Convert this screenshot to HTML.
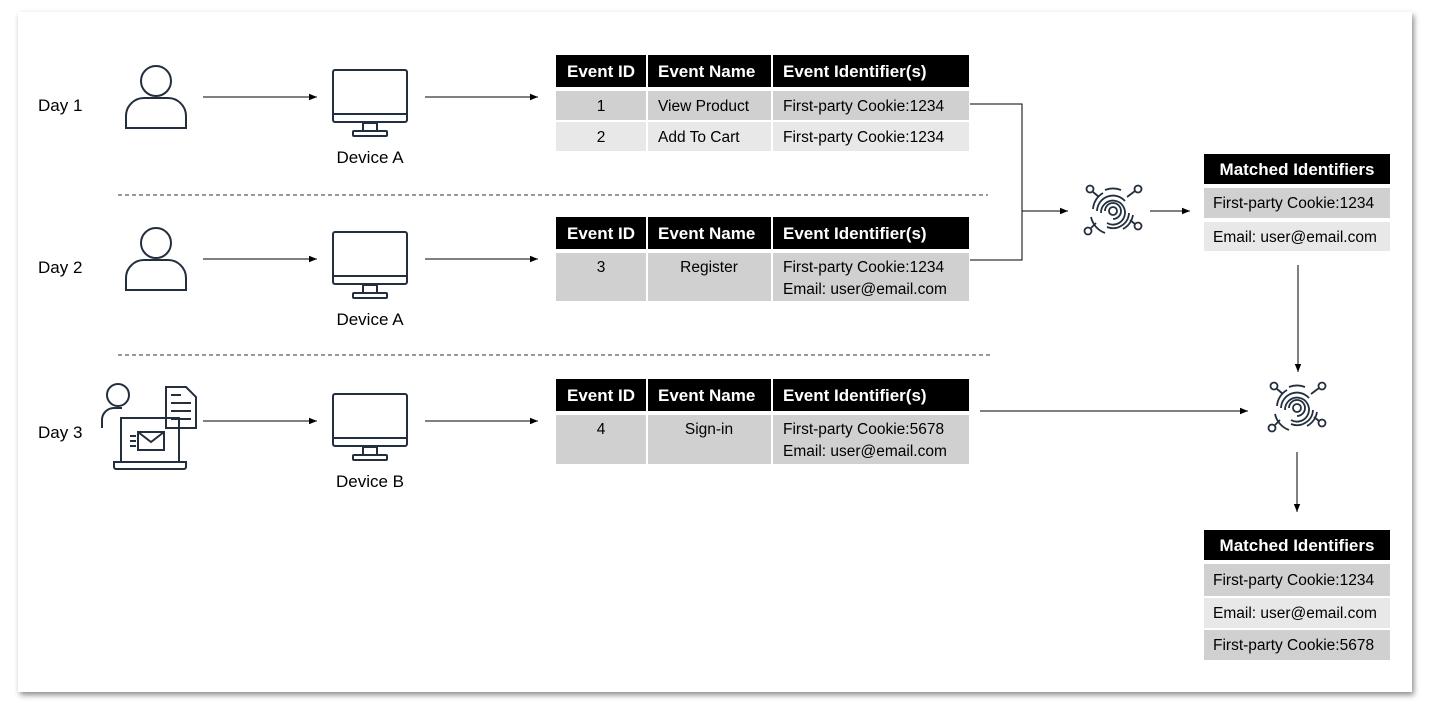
<!DOCTYPE html>
<html><head><meta charset="utf-8"><style>
body{margin:0;background:#fff}
svg text{font-family:"Liberation Sans",sans-serif}
</style></head><body>
<svg width="1430" height="721" viewBox="0 0 1430 721" xmlns="http://www.w3.org/2000/svg">
<defs>
<marker id="a" viewBox="0 0 10 10" refX="10" refY="5" markerWidth="8" markerHeight="8" orient="auto"><path d="M0,1 L10,5 L0,9z" fill="#000"/></marker>
<filter id="sh" x="-5%" y="-5%" width="110%" height="110%"><feDropShadow dx="2" dy="3" stdDeviation="3" flood-color="#000" flood-opacity="0.45"/></filter>
<g id="person" fill="none" stroke="#232f3e" stroke-width="2"><circle cx="0" cy="-17" r="15"/><path d="M-30,30 v-12 a18,18 0 0 1 18,-18 h24 a18,18 0 0 1 18,18 v12 z"/></g>
<g id="mon" fill="none" stroke="#232f3e" stroke-width="2"><rect x="0" y="0" width="74" height="52" rx="2"/><line x1="0" y1="44" x2="74" y2="44"/><rect x="30" y="53" width="14" height="8"/><rect x="20" y="61" width="34" height="5" rx="1"/></g>
<g id="fp" fill="none" stroke="#232f3e" stroke-width="1.8"><circle cx="0" cy="0" r="4"/><path d="M-8,0 a8,8 0 1 1 8,8"/><path d="M-12,2 a12,12 0 1 1 6,10"/><path d="M-16,0 a16,16 0 0 1 28,-10"/><path d="M16,2 a16,16 0 0 1 -22,14"/><path d="M-20,-2 a20,20 0 0 1 10,-16"/><path d="M20,4 a20,20 0 0 1 -10,14"/><path d="M-8,-21 a22,22 0 0 1 16,0"/><path d="M-22,6 a22,22 0 0 0 14,16"/><line x1="14" y1="-14" x2="22" y2="-20"/><circle cx="25" cy="-22" r="3.5"/><line x1="17" y1="9" x2="22" y2="13"/><circle cx="25" cy="15" r="3.5"/><line x1="-14" y1="-14" x2="-20" y2="-19"/><circle cx="-23" cy="-22" r="3.5"/><line x1="-17" y1="12" x2="-22" y2="17"/><circle cx="-25" cy="20" r="3.5"/></g>
</defs>
<rect x="18" y="12" width="1394" height="680" fill="#fff" filter="url(#sh)"/>
<g font-size="17" fill="#000"><text x="38" y="111">Day 1</text><text x="38" y="273">Day 2</text><text x="38" y="438">Day 3</text></g>
<use href="#person" x="156" y="98"/><use href="#person" x="156" y="260"/>
<g fill="none" stroke="#232f3e" stroke-width="2"><circle cx="118" cy="395" r="11"/><path d="M102,428 v-8 a12,12 0 0 1 12,-12 h8"/><rect x="121" y="418" width="58" height="44"/><path d="M114,462 h72 v5 a2,2 0 0 1 -2,2 h-68 a2,2 0 0 1 -2,-2z"/><rect x="138" y="432" width="26" height="18"/><path d="M138,432 l13,10 l13,-10"/><path d="M130,436h6M130,441h6M130,446h6"/><path d="M166,387 h20 l10,10 v31 h-30z"/><path d="M171,395h10M171,403h20M171,411h20M171,419h20"/></g>
<use href="#mon" x="333" y="70"/><use href="#mon" x="333" y="232"/><use href="#mon" x="333" y="394"/>
<g font-size="17" text-anchor="middle"><text x="370" y="163">Device A</text><text x="370" y="325">Device A</text><text x="370" y="487">Device B</text></g>
<g stroke="#000" stroke-width="1" fill="none" marker-end="url(#a)">
<line x1="203" y1="97" x2="317" y2="97"/><line x1="425" y1="97" x2="538" y2="97"/>
<line x1="203" y1="259" x2="317" y2="259"/><line x1="425" y1="259" x2="538" y2="259"/>
<line x1="203" y1="421" x2="317" y2="421"/><line x1="425" y1="421" x2="538" y2="421"/>
<line x1="1022" y1="211" x2="1068" y2="211"/><line x1="1150" y1="211" x2="1190" y2="211"/>
<line x1="1298" y1="265" x2="1298" y2="372"/><line x1="980" y1="411" x2="1248" y2="411"/>
<line x1="1297" y1="452" x2="1297" y2="512"/>
</g>
<path d="M970,104 H1022 V260 H970" stroke="#000" fill="none"/>
<g stroke="#333" stroke-dasharray="4,3"><line x1="118" y1="195" x2="988" y2="195"/><line x1="118" y1="355" x2="990" y2="355"/></g>
<g font-size="15.5">
<rect x="556" y="55" width="413" height="32" fill="#000"/>
<g fill="#fff" font-weight="bold" font-size="17"><text x="601" y="77" text-anchor="middle">Event ID</text><text x="658" y="77">Event Name</text><text x="783" y="77">Event Identifier(s)</text></g>
<rect x="556" y="91" width="413" height="29" fill="#d0d0d0"/><rect x="556" y="122" width="413" height="29" fill="#e8e8e8"/>
<text x="601" y="111" text-anchor="middle">1</text><text x="658" y="111">View Product</text><text x="783" y="111">First-party Cookie:1234</text>
<text x="601" y="142" text-anchor="middle">2</text><text x="658" y="142">Add To Cart</text><text x="783" y="142">First-party Cookie:1234</text>
<rect x="556" y="217" width="413" height="32" fill="#000"/>
<g fill="#fff" font-weight="bold" font-size="17"><text x="601" y="239" text-anchor="middle">Event ID</text><text x="658" y="239">Event Name</text><text x="783" y="239">Event Identifier(s)</text></g>
<rect x="556" y="253" width="413" height="48" fill="#d0d0d0"/>
<text x="601" y="272" text-anchor="middle">3</text><text x="709" y="272" text-anchor="middle">Register</text><text x="783" y="272">First-party Cookie:1234</text><text x="783" y="294">Email: user@email.com</text>
<rect x="556" y="379" width="413" height="32" fill="#000"/>
<g fill="#fff" font-weight="bold" font-size="17"><text x="601" y="401" text-anchor="middle">Event ID</text><text x="658" y="401">Event Name</text><text x="783" y="401">Event Identifier(s)</text></g>
<rect x="556" y="415" width="413" height="49" fill="#d0d0d0"/>
<text x="601" y="434" text-anchor="middle">4</text><text x="709" y="434" text-anchor="middle">Sign-in</text><text x="783" y="434">First-party Cookie:5678</text><text x="783" y="456">Email: user@email.com</text>
<g stroke="#fff" stroke-width="2"><line x1="647" y1="55" x2="647" y2="151"/><line x1="772" y1="55" x2="772" y2="151"/><line x1="647" y1="217" x2="647" y2="301"/><line x1="772" y1="217" x2="772" y2="301"/><line x1="647" y1="379" x2="647" y2="464"/><line x1="772" y1="379" x2="772" y2="464"/></g>
<rect x="1204" y="154" width="186" height="30" fill="#000"/><text x="1297" y="175" text-anchor="middle" fill="#fff" font-weight="bold" font-size="17">Matched Identifiers</text>
<rect x="1204" y="188" width="186" height="30" fill="#d0d0d0"/><rect x="1204" y="222" width="186" height="29" fill="#e8e8e8"/>
<text x="1213" y="208">First-party Cookie:1234</text><text x="1213" y="242">Email: user@email.com</text>
<rect x="1204" y="530" width="186" height="30" fill="#000"/><text x="1297" y="551" text-anchor="middle" fill="#fff" font-weight="bold" font-size="17">Matched Identifiers</text>
<rect x="1204" y="564" width="186" height="32" fill="#d0d0d0"/><rect x="1204" y="598" width="186" height="30" fill="#e8e8e8"/><rect x="1204" y="630" width="186" height="30" fill="#d0d0d0"/>
<text x="1213" y="585">First-party Cookie:1234</text><text x="1213" y="618">Email: user@email.com</text><text x="1213" y="650">First-party Cookie:5678</text>
</g>
<use href="#fp" x="1113" y="211"/><use href="#fp" x="1297" y="408"/>
</svg>
</body></html>
